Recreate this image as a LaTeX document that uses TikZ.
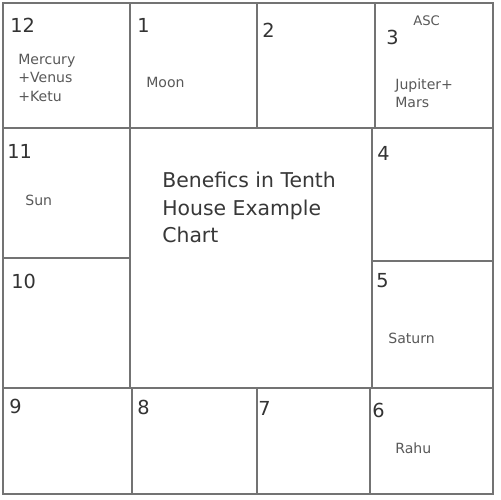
\documentclass[tikz,border=0pt]{standalone}
\usepackage{fontspec}
\setmainfont{DejaVu Sans}
\begin{document}
\begin{tikzpicture}[x=0.02cm,y=-0.02cm,
  grid/.style={draw=black!55, line width=0.7pt},
  num/.style={anchor=base west, inner sep=0pt, font=\fontsize{11}{13}\selectfont, text=black!80},
  planet/.style={anchor=base west, inner sep=0pt, font=\fontsize{8}{10}\selectfont, text=black!65},
  small/.style={anchor=base west, inner sep=0pt, font=\fontsize{7.5}{9}\selectfont, text=black!65},
  title/.style={anchor=base west, inner sep=0pt, font=\fontsize{11.6}{15}\selectfont, text=black!78}]
\useasboundingbox[fill=white] (0,0) rectangle (500,500);
% grid
\draw[grid] (3,3) rectangle (493,494);
\draw[grid] (3,128) -- (493,128);
\draw[grid] (3,388) -- (493,388);
\draw[grid] (130,3) -- (130,128);
\draw[grid] (257,3) -- (257,128);
\draw[grid] (375,3) -- (375,128);
\draw[grid] (130,128) -- (130,388);
\draw[grid] (372,128) -- (372,388);
\draw[grid] (3,258) -- (130,258);
\draw[grid] (372,261) -- (493,261);
\draw[grid] (132,388) -- (132,494);
\draw[grid] (257,388) -- (257,494);
\draw[grid] (370,388) -- (370,494);
% house numbers
\node[num] (h12) at (10,33) {12};
\node[num] (h1) at (137,33) {1};
\node[num] (h2) at (262,38) {2};
\node[num] (h3) at (386,45) {3};
\node[num] (h11) at (7,158) {11};
\node[num] (h10) at (11,288) {10};
\node[num] (h4) at (377,160) {4};
\node[num] (h5) at (376,287) {5};
\node[num] (h9) at (9,413) {9};
\node[num] (h8) at (137,414) {8};
\node[num] (h7) at (258,415) {7};
\node[num] (h6) at (372,417) {6};
% planets
\node[planet] (me) at (18,65) {Mercury};
\node[planet] (ve) at (18,83) {+Venus};
\node[planet] (ke) at (18,102) {+Ketu};
\node[planet] (mo) at (146,88) {Moon};
\node[small] (asc) at (413,26) {ASC};
\node[planet] (ju) at (395,90) {Jupiter+};
\node[planet] (ma) at (395,108) {Mars};
\node[planet] (su) at (25,205) {Sun};
\node[planet] (sa) at (388,343) {Saturn};
\node[planet] (ra) at (395,453) {Rahu};
% title
\node[title] (t1) at (162,187) {Benefics in Tenth};
\node[title] (t2) at (162,215) {House Example};
\node[title] (t3) at (162,242) {Chart};
\end{tikzpicture}
\end{document}
